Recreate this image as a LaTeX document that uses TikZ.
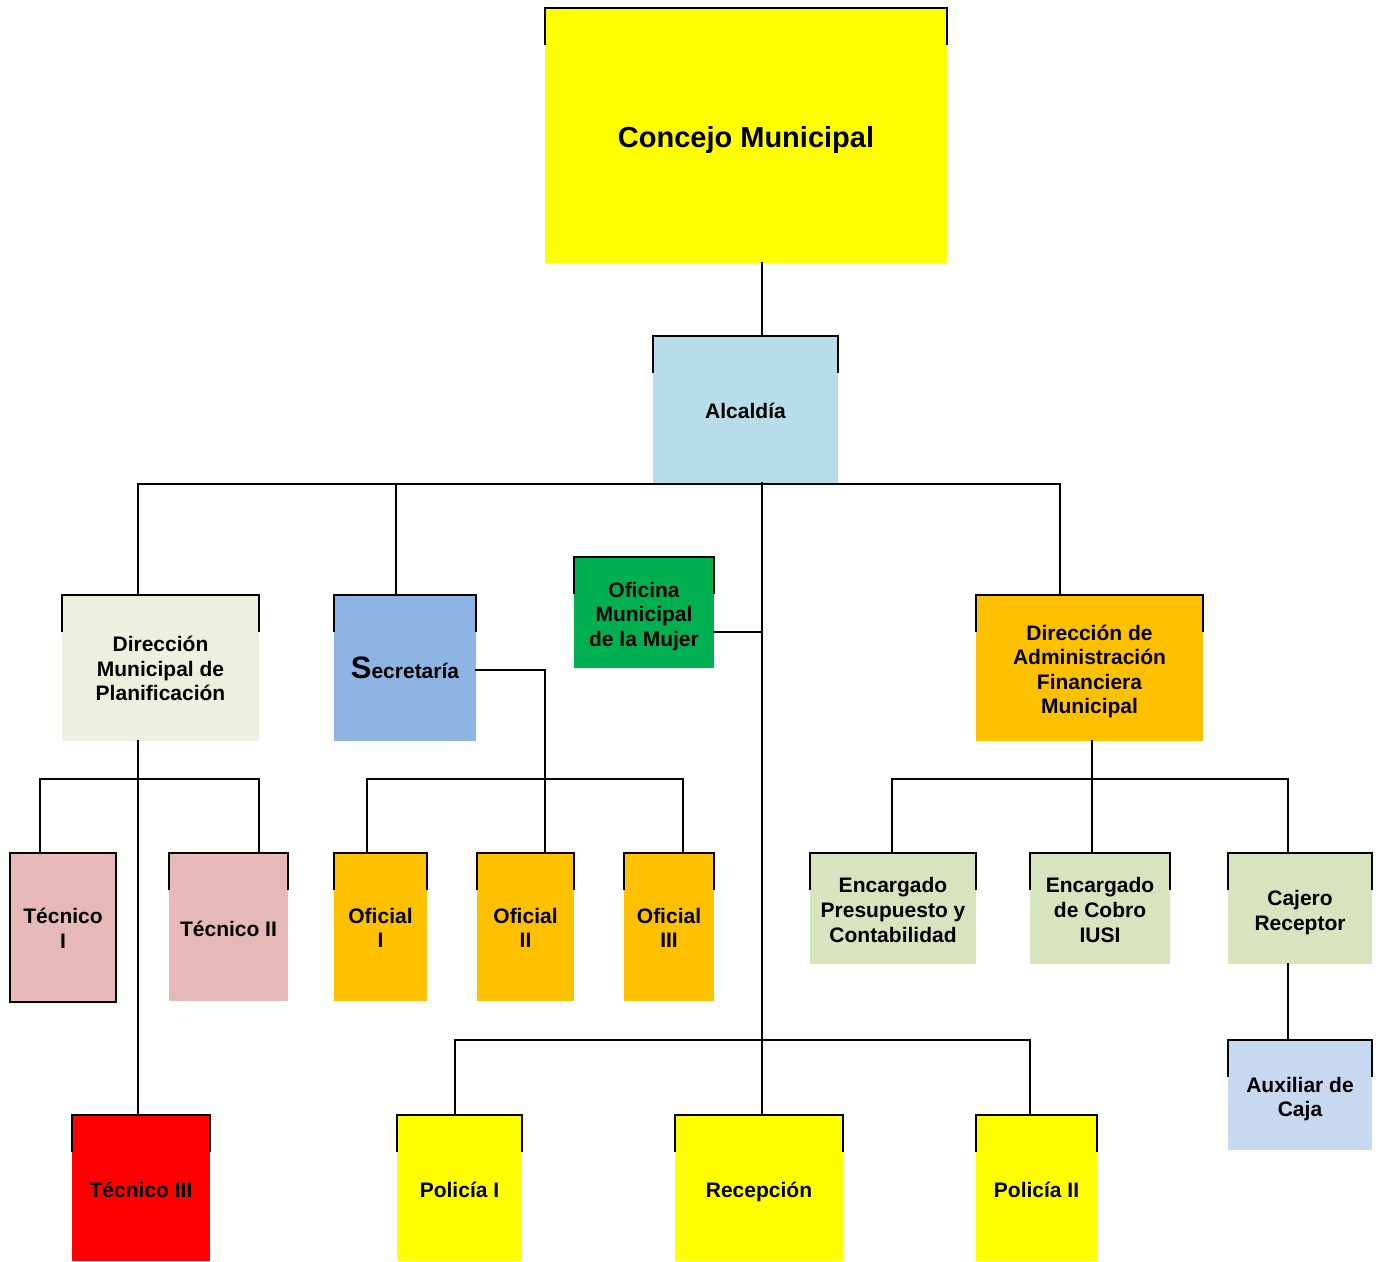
\documentclass[tikz,border=0pt]{standalone}
\usepackage{fontspec}
\setmainfont{Liberation Sans}
\definecolor{cYellow}{HTML}{FFFF00}
\definecolor{cAlc}{HTML}{B7DEE8}
\definecolor{cDMP}{HTML}{EBF1DE}
\definecolor{cSec}{HTML}{8EB4E3}
\definecolor{cMuj}{HTML}{00B050}
\definecolor{cOra}{HTML}{FFC000}
\definecolor{cPink}{HTML}{E6B9B8}
\definecolor{cRed}{HTML}{FF0000}
\definecolor{cGreen}{HTML}{D7E4BD}
\definecolor{cAux}{HTML}{C6D9F1}
\begin{document}
\begin{tikzpicture}[x=1pt,y=-1pt,
  orgbox/.style={rectangle,inner sep=0pt,outer sep=0pt},
  txt/.style={inner sep=0pt,outer sep=0pt,align=center,
    font=\fontsize{21}{24.6}\selectfont\bfseries},
  conn/.style={line width=2pt,line cap=rect},
  brk/.style={line width=2.2pt}]
\useasboundingbox (0,0) rectangle (1378,1261);
% boxes
\node[orgbox,fill=cYellow,minimum width=402pt,minimum height=255pt,
  label={[txt,yshift=-4pt,font=\fontsize{29}{34}\selectfont\bfseries]center:Concejo Municipal}] (concejo) at (746,135.5) {};
\node[orgbox,fill=cAlc,minimum width=185pt,minimum height=147pt,
  label={[txt,yshift=-1pt]center:Alcaldía}] (alcaldia) at (745.5,409.5) {};
\node[orgbox,fill=cDMP,minimum width=197pt,minimum height=146pt,
  label={[txt,yshift=-0.5pt]center:{Dirección\\Municipal de\\Planificación}}] (dmp) at (160.5,668) {};
\node[orgbox,fill=cSec,minimum width=142pt,minimum height=146pt,
  label={[txt]center:{{\fontsize{31}{31}\selectfont S}ecretaría}}] (secre) at (405,668) {};
\node[orgbox,fill=cMuj,minimum width=140pt,minimum height=111pt,
  label={[txt,yshift=-4pt]center:{Oficina\\Municipal\\de la Mujer}}] (mujer) at (644,612.5) {};
\node[orgbox,fill=cOra,minimum width=227pt,minimum height=146pt,
  label={[txt,yshift=-3.5pt]center:{Dirección de\\Administración\\Financiera\\Municipal}}] (dafm) at (1089.5,668) {};
\node[orgbox,fill=cPink,minimum width=106pt,minimum height=149pt,draw=black,line width=2pt,
  label={[txt,yshift=-1pt]center:{Técnico\\I}}] (tec1) at (63,927.5) {};
\node[orgbox,fill=cPink,minimum width=119pt,minimum height=148pt,
  label={[txt,yshift=-1.5pt]center:Técnico II}] (tec2) at (228.5,927) {};
\node[orgbox,fill=cOra,minimum width=93pt,minimum height=148pt,
  label={[txt,yshift=-1pt]center:{Oficial\\I}}] (of1) at (380.5,927) {};
\node[orgbox,fill=cOra,minimum width=97pt,minimum height=148pt,
  label={[txt,yshift=-1pt]center:{Oficial\\II}}] (of2) at (525.5,927) {};
\node[orgbox,fill=cOra,minimum width=90pt,minimum height=148pt,
  label={[txt,yshift=-1pt]center:{Oficial\\III}}] (of3) at (669,927) {};
\node[orgbox,fill=cGreen,minimum width=166pt,minimum height=111pt,
  label={[txt,yshift=-1.5pt]center:{Encargado\\Presupuesto y\\Contabilidad}}] (pres) at (893,908.5) {};
\node[orgbox,fill=cGreen,minimum width=140pt,minimum height=111pt,
  label={[txt,yshift=-1.5pt]center:{Encargado\\de Cobro\\IUSI}}] (cobro) at (1100,908.5) {};
\node[orgbox,fill=cGreen,minimum width=144pt,minimum height=111pt,
  label={[txt,yshift=-4pt]center:{Cajero\\Receptor}}] (cajero) at (1300,908.5) {};
\node[orgbox,fill=cAux,minimum width=144pt,minimum height=110pt,
  label={[txt,yshift=-4pt]center:{Auxiliar de\\Caja}}] (aux) at (1300,1095) {};
\node[orgbox,fill=cRed,minimum width=138pt,minimum height=146pt,
  label={[txt,yshift=-2pt]center:Técnico III}] (tec3) at (141,1188) {};
\node[orgbox,fill=cYellow,minimum width=125pt,minimum height=146pt,
  label={[txt,yshift=-2pt]center:Policía I}] (pol1) at (459.5,1188) {};
\node[orgbox,fill=cYellow,minimum width=168pt,minimum height=146pt,
  label={[txt,yshift=-4pt]center:Recepción}] (recep) at (759,1188) {};
\node[orgbox,fill=cYellow,minimum width=121pt,minimum height=146pt,
  label={[txt,yshift=-2pt]center:Policía II}] (pol2) at (1036.5,1188) {};
% top brackets
\foreach \n in {concejo,alcaldia,dmp,secre,mujer,dafm,tec2,of1,of2,of3,pres,cobro,cajero,aux,tec3,pol1,recep,pol2}{
  \draw[brk] ([yshift=-37pt]\n.north west) -- (\n.north west) -- (\n.north east) -- ([yshift=-37pt]\n.north east);
}
% junction coordinates
\coordinate (t) at (762,484);
\coordinate (tb) at (762,1040);
\coordinate (b1L) at (138,484);
\coordinate (b1S) at (396,484);
\coordinate (b1R) at (1060,484);
\coordinate (m) at (762,632);
\coordinate (bL) at (455,1040);
\coordinate (bR) at (1030,1040);
\coordinate (s) at (545,779);
\coordinate (sL) at (367,779);
\coordinate (sR) at (683,779);
\coordinate (dL) at (40,779);
\coordinate (dM) at (138,779);
\coordinate (dR) at (259,779);
\coordinate (fL) at (892,779);
\coordinate (fM) at (1092,779);
\coordinate (fR) at (1288,779);
\coordinate (c) at (1288,964);
% connectors
\draw[conn] (concejo.south -| t) -- (alcaldia.north -| t);
\draw[conn] (alcaldia.south -| t) -- (tb);
\draw[conn] (dmp.north -| b1L) -- (b1L) -- (b1R) -- (dafm.north -| b1R);
\draw[conn] (b1S) -- (secre.north -| b1S);
\draw[conn] (mujer.east |- m) -- (m);
\draw[conn] (pol1.north -| bL) -- (bL) -- (bR) -- (pol2.north -| bR);
\draw[conn] (tb) -- (recep.north -| tb);
\draw[conn] ([yshift=-2pt]secre.east) -| (s) -- (of2.north -| s);
\draw[conn] (of1.north -| sL) -- (sL) -- (sR) -- (of3.north -| sR);
\draw[conn] (dmp.south -| dM) -- (tec3.north -| dM);
\draw[conn] (tec1.north -| dL) -- (dL) -- (dR) -- (tec2.north -| dR);
\draw[conn] (dafm.south -| fM) -- (cobro.north -| fM);
\draw[conn] (pres.north -| fL) -- (fL) -- (fR) -- (cajero.north -| fR);
\draw[conn] (cajero.south -| c) -- (aux.north -| c);
\end{tikzpicture}
\end{document}
